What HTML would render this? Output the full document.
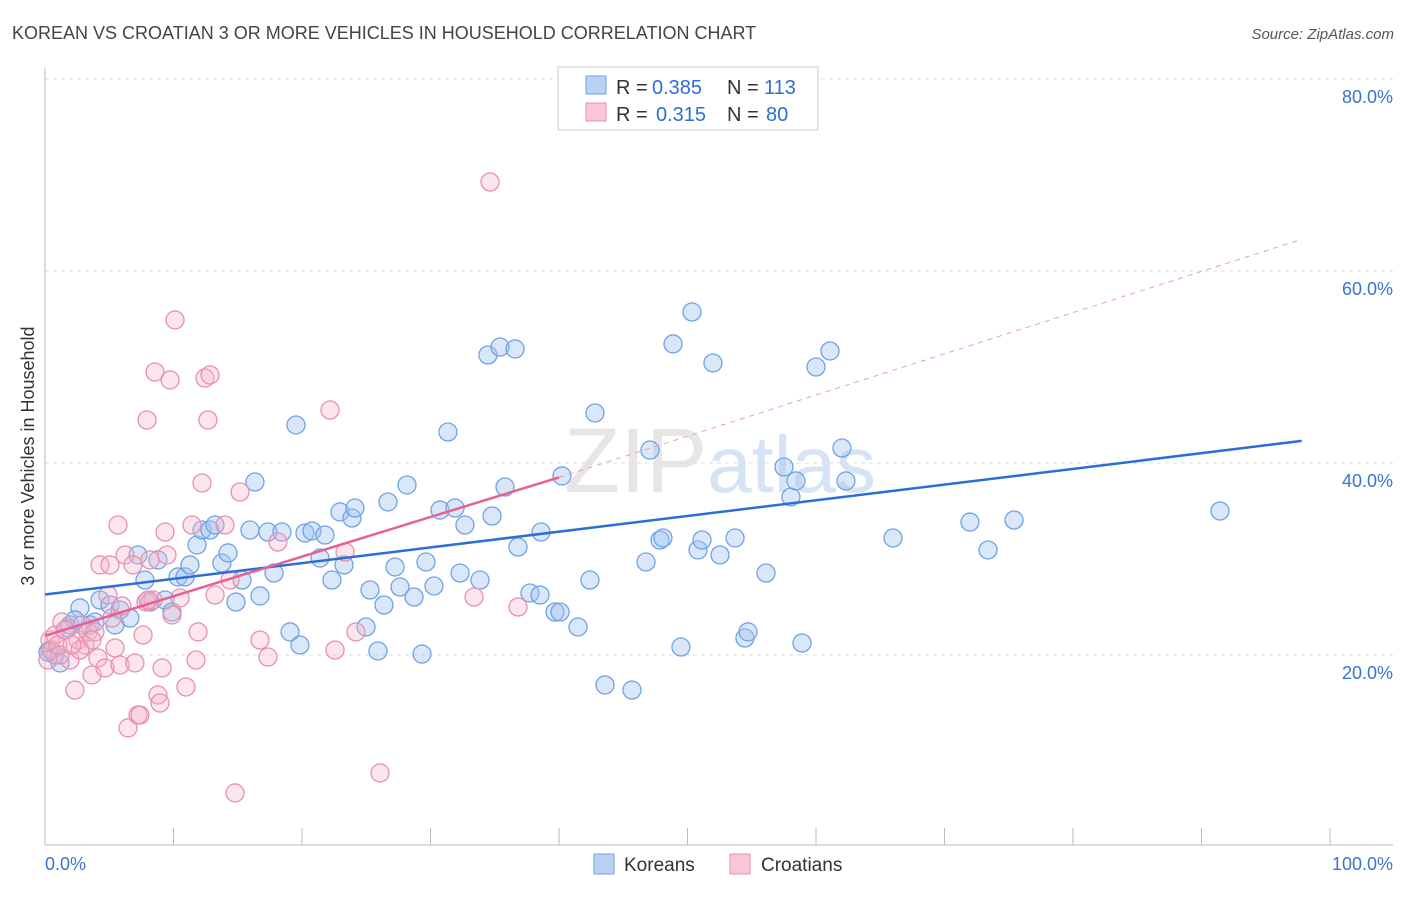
<!DOCTYPE html>
<html><head><meta charset="utf-8"><style>
body{margin:0;background:#fff;font-family:"Liberation Sans",sans-serif}
svg text{font-family:"Liberation Sans",sans-serif}
</style></head><body>
<svg id="chart" width="1406" height="892" xmlns="http://www.w3.org/2000/svg">
<text x="12" y="39" font-size="18" fill="#444">KOREAN VS CROATIAN 3 OR MORE VEHICLES IN HOUSEHOLD CORRELATION CHART</text>
<text x="1394" y="39" font-size="15" fill="#555" text-anchor="end" font-style="italic">Source: ZipAtlas.com</text>
<text x="720" y="492" font-size="92" fill="#e6e6e6" text-anchor="middle" font-family="Liberation Serif"><tspan>ZIP</tspan><tspan font-family="Liberation Sans" fill="#d5e3f5" font-size="80">atlas</tspan></text>
<g id="grid"></g>
<line x1="45" y1="845" x2="1393" y2="845" stroke="#bbb"/>
<line x1="45" y1="68" x2="45" y2="845" stroke="#bbb"/>
<text transform="translate(34,456) rotate(-90)" font-size="18" fill="#333" text-anchor="middle">3 or more Vehicles in Household</text>
<text x="45" y="870" font-size="18" fill="#3a73d0">0.0%</text>
<text x="1393" y="870" font-size="18" fill="#3a73d0" text-anchor="end">100.0%</text>
<g id="pts"></g>
<g id="trends"></g>
<g font-size="20">
<rect x="558" y="67" width="260" height="63" fill="#fff" stroke="#ccc"/>
<rect x="586" y="76" width="20" height="18" fill="#b9d1f3" stroke="#6fa3e6"/>
<rect x="586" y="103" width="20" height="18" fill="#f9c6d6" stroke="#e890b0"/>
<text x="616" y="94" fill="#333">R =</text><text x="652" y="94" fill="#2b6fd6">0.385</text>
<text x="727" y="94" fill="#333">N =</text><text x="764" y="94" fill="#2b6fd6">113</text>
<text x="616" y="121" fill="#333">R =</text><text x="656" y="121" fill="#2b6fd6">0.315</text>
<text x="727" y="121" fill="#333">N =</text><text x="766" y="121" fill="#2b6fd6">80</text>
</g>
<g>
<rect x="594" y="854" width="20" height="20" fill="#b9d1f3" stroke="#6fa3e6"/>
<text x="624" y="871" font-size="19" fill="#333">Koreans</text>
<rect x="730" y="854" width="20" height="20" fill="#f9c6d6" stroke="#e890b0"/>
<text x="761" y="871" font-size="19" fill="#333">Croatians</text>
</g>
</svg>
<script>
const yTicks=[20,40,60,80];
const xTicks=[0,10,20,30,40,50,60,70,80,90,100];
const bluePx=[[60,663],[55,655],[50,650],[70,625],[80,608],[90,625],[100,600],[110,605],[115,625],[120,610],[130,618],[138,555],[145,580],[158,560],[165,600],[172,612],[178,577],[185,577],[190,565],[197,545],[202,530],[210,530],[215,525],[222,563],[228,553],[236,602],[242,580],[250,530],[255,482],[260,596],[268,532],[274,573],[282,532],[290,632],[296,425],[300,645],[305,533],[312,531],[320,558],[325,535],[332,580],[340,512],[344,565],[352,518],[355,508],[366,627],[370,590],[378,651],[384,605],[388,502],[395,567],[400,587],[407,485],[414,597],[422,654],[426,562],[434,586],[440,510],[448,432],[455,508],[465,525],[460,573],[480,580],[488,355],[492,516],[500,347],[505,487],[515,349],[518,547],[530,593],[540,595],[541,532],[555,612],[560,612],[562,476],[578,627],[590,580],[595,413],[605,685],[632,690],[646,562],[650,450],[660,540],[663,538],[673,344],[681,647],[692,312],[698,550],[702,540],[713,363],[720,555],[735,538],[745,638],[748,632],[766,573],[784,467],[791,497],[796,481],[802,643],[816,367],[830,351],[842,448],[846,481],[893,538],[970,522],[988,550],[1014,520],[1220,511],[48,652],[68,628],[75,620],[95,622],[150,602]];
const pinkPx=[[50,640],[52,650],[55,635],[58,645],[62,622],[65,630],[70,660],[75,690],[78,640],[82,625],[85,645],[88,632],[92,675],[95,632],[98,658],[100,565],[105,668],[108,595],[110,565],[112,618],[115,648],[118,525],[120,665],[122,606],[125,555],[128,728],[133,565],[135,663],[138,715],[140,715],[143,635],[146,602],[150,560],[153,600],[155,372],[158,695],[160,703],[162,668],[165,532],[167,555],[170,380],[172,615],[175,320],[180,598],[186,687],[192,525],[196,660],[198,632],[202,483],[205,378],[208,420],[210,375],[215,595],[225,525],[230,580],[235,793],[240,492],[260,640],[268,657],[278,542],[330,410],[335,650],[345,552],[356,632],[380,773],[474,597],[490,182],[518,607],[147,420],[148,600],[92,640],[60,655],[80,650],[48,660],[72,645]];
// convert read pixel positions to data values
const blueX=bluePx.map(p=>+((p[0]-45)/12.85).toFixed(2)), blueY=bluePx.map(p=>+((847-p[1])/9.6).toFixed(2));
const pinkX=pinkPx.map(p=>+((p[0]-45)/12.85).toFixed(2)), pinkY=pinkPx.map(p=>+((847-p[1])/9.6).toFixed(2));
const blueTrend=[[0,26.3],[97.8,42.3]];
const pinkTrend=[[0,22],[40,38.5],[97.8,63.3]];
const X=v=>45+v*12.85, Y=v=>847-v*9.6;
const NS='http://www.w3.org/2000/svg';
function mk(t,a,p){const e=document.createElementNS(NS,t);for(const k in a)e.setAttribute(k,a[k]);p.appendChild(e);return e;}
const grid=document.getElementById('grid');
yTicks.forEach(t=>{const l=mk('line',{x1:45,x2:1393,y1:Y(t),y2:Y(t),stroke:'#ddd','stroke-dasharray':'4,4'},grid);


const tx=mk('text',{x:1393,y:Y(t)+24,'font-size':18,fill:'#3a73d0','text-anchor':'end'},grid);tx.textContent=t.toFixed(1)+'%';

});
xTicks.forEach(t=>{const l=mk('line',{x1:X(t),x2:X(t),y1:828,y2:845,stroke:'#bbb'},grid);

});
const pts=document.getElementById('pts');
blueX.forEach((x,i)=>{const c=mk('circle',{cx:X(x),cy:Y(blueY[i]),r:9,fill:'rgba(160,195,240,0.4)',stroke:'#6fa3e6','stroke-width':1.3},pts);

});
pinkX.forEach((x,i)=>{const c=mk('circle',{cx:X(x),cy:Y(pinkY[i]),r:9,fill:'rgba(245,180,200,0.35)',stroke:'#e890b0','stroke-width':1.3},pts);

});
const tr=document.getElementById('trends');
let l=mk('line',{x1:X(blueTrend[0][0]),y1:Y(blueTrend[0][1]),x2:X(blueTrend[1][0]),y2:Y(blueTrend[1][1]),stroke:'#2b6fd6','stroke-width':2.5},tr);


l=mk('line',{x1:X(pinkTrend[0][0]),y1:Y(pinkTrend[0][1]),x2:X(pinkTrend[1][0]),y2:Y(pinkTrend[1][1]),stroke:'#e8608f','stroke-width':2.5},tr);


l=mk('line',{x1:X(pinkTrend[1][0]),y1:Y(pinkTrend[1][1]),x2:X(pinkTrend[2][0]),y2:Y(pinkTrend[2][1]),stroke:'#e8a0b8','stroke-width':1,'stroke-dasharray':'5,5'},tr);


</script>
</body></html>
